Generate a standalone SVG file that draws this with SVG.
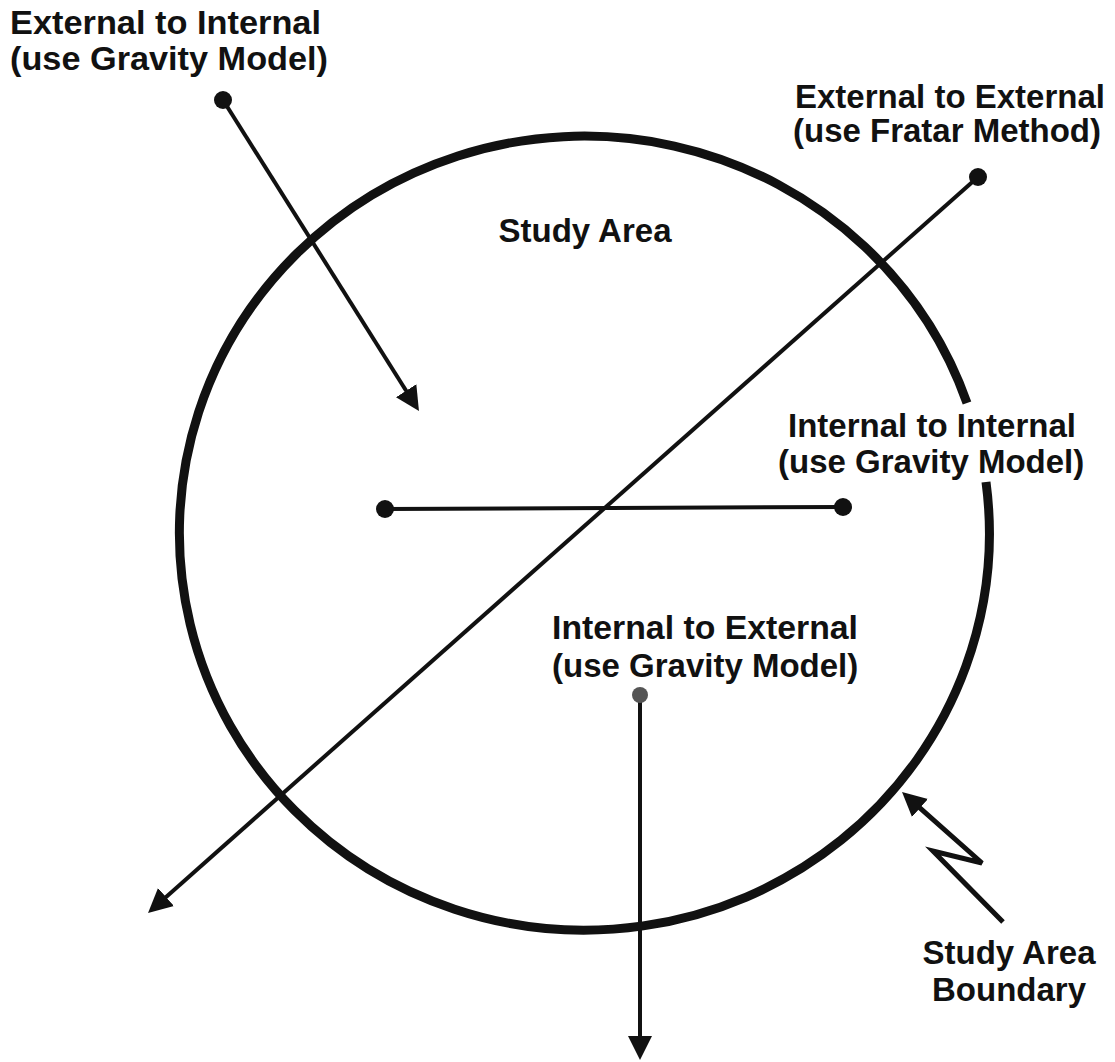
<svg xmlns="http://www.w3.org/2000/svg" width="1115" height="1062" viewBox="0 0 1115 1062">
<style>
  text { font-family: "Liberation Sans", Arial, sans-serif; font-weight: bold; font-size: 33px; fill: #111; }
  .conn { stroke: #111; stroke-width: 4; fill: none; }
  .dot { fill: #111; }
  .boundary { stroke: #111; stroke-width: 9; fill: none; }
</style>
<defs>
  <marker id="arrow" markerUnits="userSpaceOnUse" markerWidth="24" markerHeight="26" viewBox="0 0 24 26" refX="10" refY="13" orient="auto">
    <path d="M0,1 L24,13 L0,25 Z" fill="#111"/>
  </marker>
</defs>

<g id="study-area">
  <path class="boundary" d="M 986 482 A 405 397 0 1 1 967 403"/>
  <text x="585" y="242" text-anchor="middle">Study Area</text>
</g>

<g id="connectors">
  <line class="conn" x1="223" y1="100" x2="411.5" y2="399.2" marker-end="url(#arrow)"/>
  <line class="conn" x1="978" y1="177" x2="158.5" y2="903.7" marker-end="url(#arrow)"/>
  <line class="conn" x1="385" y1="509" x2="843" y2="507"/>
  <line class="conn" x1="640" y1="695" x2="640" y2="1046" marker-end="url(#arrow)"/>
  <polyline class="conn" style="stroke-width:5" points="1003,922 933,851 982,863 912.5,801.3" marker-end="url(#arrow)"/>
</g>

<g id="external-to-internal">
  <circle class="dot" cx="223" cy="100" r="9"/>
  <text x="10" y="34" textLength="311" lengthAdjust="spacingAndGlyphs">External to Internal</text>
  <text x="10" y="70" textLength="318" lengthAdjust="spacingAndGlyphs">(use Gravity Model)</text>
</g>

<g id="external-to-external">
  <circle class="dot" cx="978" cy="177" r="9"/>
  <text x="795" y="108">External to External</text>
  <text x="793" y="142">(use Fratar Method)</text>
</g>

<g id="internal-to-internal">
  <circle class="dot" cx="385" cy="509" r="9"/>
  <circle class="dot" cx="843" cy="507" r="9"/>
  <text x="788" y="437" textLength="288" lengthAdjust="spacingAndGlyphs">Internal to Internal</text>
  <text x="778" y="473">(use Gravity Model)</text>
</g>

<g id="internal-to-external">
  <circle cx="640" cy="695" r="8" fill="#555"/>
  <text x="552" y="639" textLength="306" lengthAdjust="spacingAndGlyphs">Internal to External</text>
  <text x="552" y="677">(use Gravity Model)</text>
</g>

<g id="study-area-boundary-label">
  <text x="1009" y="964" text-anchor="middle">Study Area</text>
  <text x="1009" y="1001" text-anchor="middle">Boundary</text>
</g>
</svg>
